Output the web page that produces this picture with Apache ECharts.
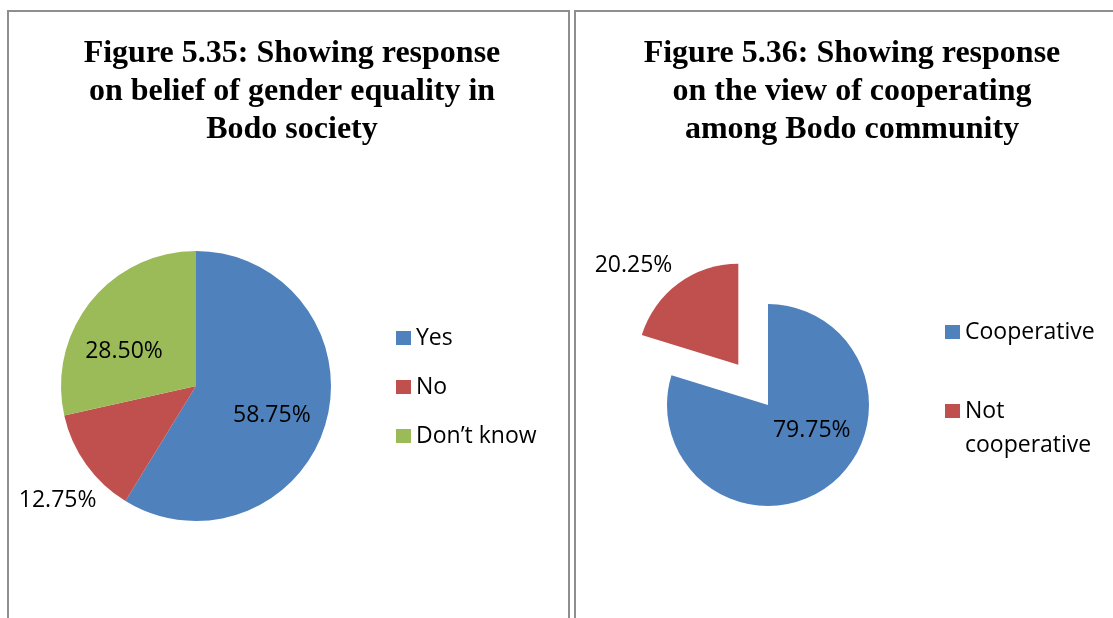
<!DOCTYPE html>
<html>
<head>
<meta charset="utf-8">
<title>Figures 5.35 and 5.36</title>
<script src="https://cdn.jsdelivr.net/npm/echarts@6/dist/echarts.min.js"></script>
<style>
  html, body { margin: 0; padding: 0; background: #ffffff; overflow: hidden; }
  body { width: 1113px; height: 618px; position: relative; }
  .panel { position: absolute; box-sizing: border-box; border: 2px solid #8e8e8e; border-bottom: none; }
  #panelLeft { left: 7px; top: 10px; width: 563px; height: 700px; }
  #panelRight { left: 574px; top: 10px; width: 600px; height: 700px; }
  .chart { position: absolute; top: 0; height: 618px; }
  #chartLeft { left: 0; width: 584px; }
  #chartRight { left: 591px; width: 522px; }
</style>
</head>
<body>
<div class="panel" id="panelLeft"></div>
<div class="panel" id="panelRight"></div>
<div class="chart" id="chartLeft"></div>
<div class="chart" id="chartRight"></div>
<script>
// Figure 5.35: belief of gender equality in Bodo society
const fig35Title = 'Figure 5.35: Showing response\non belief of gender equality in\nBodo society';
const fig35Categories = ['Yes', 'No', 'Don’t know'];
const fig35Values = [58.75, 12.75, 28.50];

// Figure 5.36: view of cooperating among Bodo community
const fig36Title = 'Figure 5.36: Showing response\non the view of cooperating\namong Bodo community';
const fig36Categories = ['Cooperative', 'Not cooperative'];
const fig36Values = [79.75, 20.25];
const fig36Exploded = [false, true];

// Office palette
const sliceColors = ['#4F81BD', '#C0504D', '#9BBB59'];

// Label nudges (pixels) from the default inside position, per slice
const fig35LabelShift = [[8, 10], [-81, 73], [-17, 10]];
const fig36LabelShift = [[12, -18], [-73, -56]];

const bodyFont = '"Open Sans", "Noto Sans", sans-serif';
const titleFont = '"Liberation Serif", "DejaVu Serif", serif';

function titleOption(text) {
  return {
    text: text,
    left: 'center',
    top: 30,
    textStyle: {
      fontFamily: titleFont,
      fontSize: 32,
      fontWeight: 'bold',
      lineHeight: 38,
      color: '#000'
    }
  };
}

function pctLabel(p) {
  return p.value.toFixed(2) + '%';
}

function buildData(cats, vals, shifts, exploded) {
  return cats.map(function (c, i) {
    const lbl = { offset: shifts[i] };
    return {
      name: c,
      value: vals[i],
      selected: exploded ? exploded[i] : false,
      itemStyle: { color: sliceColors[i] },
      label: lbl,
      select: { label: lbl }
    };
  });
}

const commonLabel = {
  show: true,
  position: 'inside',
  formatter: pctLabel,
  fontFamily: bodyFont,
  fontSize: 23,
  color: '#000'
};

const chartLeft = echarts.init(document.getElementById('chartLeft'), null, { renderer: 'canvas' });
chartLeft.setOption({
  animation: false,
  backgroundColor: 'transparent',
  title: titleOption(fig35Title),
  legend: {
    orient: 'vertical',
    left: 391,
    top: 320,
    icon: 'rect',
    itemWidth: 15,
    itemHeight: 14,
    itemGap: 23,
    selectedMode: false,
    data: fig35Categories,
    textStyle: { fontFamily: bodyFont, fontSize: 23, lineHeight: 26, color: '#000' }
  },
  series: [{
    type: 'pie',
    center: [196, 386],
    radius: 135,
    startAngle: 90,
    clockwise: true,
    selectedMode: false,
    avoidLabelOverlap: false,
    label: commonLabel,
    labelLine: { show: false },
    emphasis: { disabled: true },
    data: buildData(fig35Categories, fig35Values, fig35LabelShift, null)
  }]
});

const chartRight = echarts.init(document.getElementById('chartRight'), null, { renderer: 'canvas' });
chartRight.setOption({
  animation: false,
  backgroundColor: 'transparent',
  title: titleOption(fig36Title),
  legend: {
    orient: 'vertical',
    left: 349,
    top: 310,
    icon: 'rect',
    itemWidth: 15,
    itemHeight: 14,
    itemGap: 11,
    selectedMode: false,
    // wrapped names keep the marker beside their first line
    formatter: function (name) {
      return name.indexOf(' ') >= 0 ? ' \n' + name.replace(' ', '\n') : name;
    },
    data: fig36Categories,
    textStyle: { fontFamily: bodyFont, fontSize: 23, lineHeight: 34, color: '#000' }
  },
  series: [{
    type: 'pie',
    center: [177, 405],
    radius: 101,
    startAngle: 90,
    clockwise: true,
    selectedMode: 'single',
    selectedOffset: 50,
    avoidLabelOverlap: false,
    label: commonLabel,
    labelLine: { show: false },
    emphasis: { disabled: true },
    data: buildData(fig36Categories, fig36Values, fig36LabelShift, fig36Exploded)
  }]
});
</script>
</body>
</html>
